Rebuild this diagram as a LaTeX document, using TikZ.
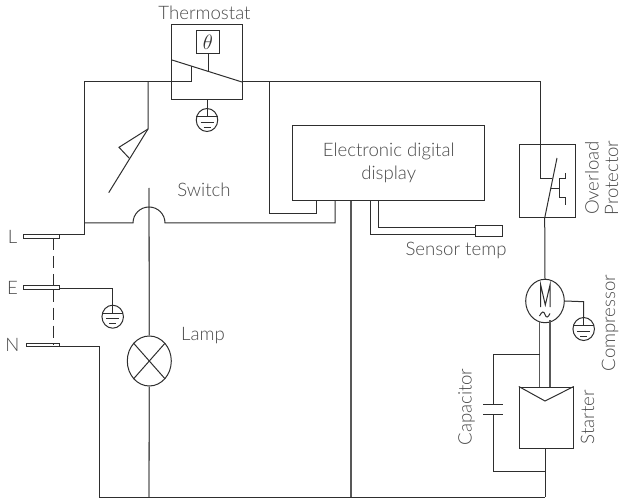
\documentclass[tikz,border=0pt]{standalone}
\usepackage{fontspec}
\setmainfont{Lato}[UprightFont=* Light]
\usetikzlibrary{shapes.geometric}
\definecolor{wire}{HTML}{2E2E2E}
\definecolor{txt}{HTML}{4A4A4A}
\tikzset{
  x=1pt,y=-1pt,
  wireline/.style={draw=wire,line width=1pt,line join=miter},
  thickwire/.style={draw=wire!80,line width=1.3pt},
  lbl/.style={text=txt,font=\fontsize{18.6pt}{23pt}\selectfont,inner sep=0pt,align=center},
  gndring/.style={wireline,ellipse,minimum width=21.5pt,minimum height=23pt,inner sep=0pt},
  plugbar/.style={wireline,fill=white,rectangle,inner sep=0pt,minimum height=3.2pt},
  boxnode/.style={wireline,rectangle,inner sep=0pt,fill=none}
}
\newcommand{\gndsym}[1]{%
  \draw[wireline] ([xshift=-10.7pt,yshift=3.4pt]#1.center) -- ([xshift=10.7pt,yshift=3.4pt]#1.center);
  \draw[wireline] ([xshift=-6.5pt,yshift=-2.2pt]#1.center) -- ([xshift=6.5pt,yshift=-2.2pt]#1.center);
  \draw[wireline] ([xshift=-3.5pt,yshift=-7.2pt]#1.center) -- ([xshift=3.5pt,yshift=-7.2pt]#1.center);
  \draw[wireline] (#1.north) -- ([yshift=3.4pt]#1.center);
}
\begin{document}
\begin{tikzpicture}
\useasboundingbox (0,0) rectangle (622,500);
% boxes
\node[boxnode,minimum width=70.5pt,minimum height=75pt] (thermo) at (207,62.5) {};
\node[boxnode,minimum width=23pt,minimum height=23pt] (theta) at (208,42.5) {\textcolor{black!80}{\fontsize{20pt}{20pt}\selectfont$\theta$}};
\node[boxnode,minimum width=192pt,minimum height=75pt] (disp) at (388.7,163.5) {};
\node[lbl] (disptxt) at (388.7,162.5) {Electronic digital\\display};
\node[boxnode,minimum width=56pt,minimum height=73pt] (over) at (547,181.5) {};
\node[boxnode,minimum width=27pt,minimum height=11pt] (sensor) at (488.5,231.5) {};
\node[boxnode,minimum width=54pt,minimum height=61pt] (start) at (546.3,417.5) {};
\node[wireline,ellipse,minimum width=38.6pt,minimum height=43.4pt,inner sep=0pt] (motor) at (545,301) {};
\node[wireline,ellipse,minimum width=44pt,minimum height=50pt,inner sep=0pt] (lamp) at (149.3,361) {};
\node[gndring] (g1) at (207,120) {};
\node[gndring] (g2) at (112.7,316.7) {};
\node[gndring] (g3) at (583.7,329) {};
\gndsym{g1}\gndsym{g2}\gndsym{g3}
% plugs
\node[plugbar,minimum width=35.6pt] (pL) at (41.5,236.6) {};
\node[plugbar,minimum width=36pt] (pE) at (41.3,287.6) {};
\node[plugbar,minimum width=32.6pt] (pN) at (43,345.3) {};
\coordinate (tl) at (172,60);
\coordinate (tr) at (242,82);
\coordinate (botL) at (99.7,497);
\coordinate (botR) at (545,497);
% thermostat internals
\draw[wireline] (tl) -- (tr);
\draw[wireline] (theta.south) -- (208,71);
\draw[wireline] (thermo.south -| g1) -- (g1.north);
% top wires
\draw[wireline] (pL.east |- 0,235) -- (84,235) -- (84,82) -- (191.5,82) -- (191.5,66);
\draw[wireline] (tr) -- (540,82) -- (540,178.7) -- (552,178.7);
\draw[wireline] (148,82) -- (148,129) -- (108.7,192.7);
\draw[wireline] (148,129) -- (119,147.3) -- (129.3,158.3);
% lamp and arc
\draw[thickwire] (149,188) -- (lamp.north);
\draw[thickwire] (lamp.south) -- (149,497);
\draw[wireline] (lamp.north west) -- (lamp.south east);
\draw[wireline] (lamp.north east) -- (lamp.south west);
\draw[wireline] (84,223) -- (133,223) arc[start angle=180,end angle=0,radius=16pt] -- (335,223) -- (335,201);
% thermostat to display
\draw[wireline] (269.7,82) -- (269.7,214) -- (316,214) -- (316,201);
% display to neutral
\draw[thickwire] (351,201) -- (351,497);
% sensor
\draw[wireline] (370,201) -- (370,235) -- (475,235);
\draw[wireline] (378.7,201) -- (378.7,227.7) -- (475,227.7);
% overload
\draw[wireline] (557,158) -- (544.7,218);
\draw[wireline] (551,189) -- (559,189);
\draw[wireline] (565,173) -- (565,179) -- (559,179) -- (559,198) -- (565,198) -- (565,205);
\draw[wireline] (544.7,218) -- (motor.north);
% motor
\draw[wireline] (540.7,307) -- (540.7,285) -- (545.3,305) -- (550,285) -- (550,307);
\draw[wireline] (539.5,316) .. controls (542,311) and (544,311) .. (545,314.5) .. controls (546,318) and (548,318) .. (550,313.5);
\draw[wireline] (motor.east) -- (583.7,301.7) -- (g3.north);
\draw[thickwire] (539.7,321) -- (539.7,386.7);
\draw[thickwire] (550,320) -- (550,386.7);
% capacitor
\draw[wireline] (539.7,354.3) -- (493.7,354.3) -- (493.7,404);
\draw[wireline] (483.3,404) -- (502.7,404);
\draw[wireline] (483.3,414.7) -- (502.7,414.7);
\draw[wireline] (493.7,414.7) -- (493.7,471.7) -- (545,471.7);
% starter
\draw[wireline] (start.north west) -- (545,401) -- (start.north east);
\draw[wireline] (545,448) -- (botR);
% ground wires
\draw[wireline] (pE.east |- 0,289) -- (112.7,289) -- (g2.north);
\draw[wireline] (pN.east |- 0,346) -- (99.7,346) -- (botL) -- (botR);
\draw[wireline,dash pattern=on 12pt off 6pt] (53.5,238) -- (53.5,286);
\draw[wireline,dash pattern=on 12pt off 6pt] (53.5,289.5) -- (53.5,344);
% labels
\node[lbl] (t1) at (204.5,13) {Thermostat};
\node[lbl] (t2) at (204,190) {Switch};
\node[lbl] (t3) at (12.5,236.5) {L};
\node[lbl] (t4) at (12.5,287.5) {E};
\node[lbl] (t5) at (12.5,344.5) {N};
\node[lbl] (t6) at (203,336) {Lamp};
\node[lbl] (t7) at (456,250) {Sensor temp};
\node[lbl,rotate=90] (t8) at (592,178) {Overload};
\node[lbl,rotate=90] (t9) at (611.5,178) {Protector};
\node[lbl,rotate=90] (t10) at (610,323) {Compressor};
\node[lbl,rotate=90] (t11) at (466.5,407) {Capacitor};
\node[lbl,rotate=90] (t12) at (587.5,417) {Starter};
\end{tikzpicture}
\end{document}
